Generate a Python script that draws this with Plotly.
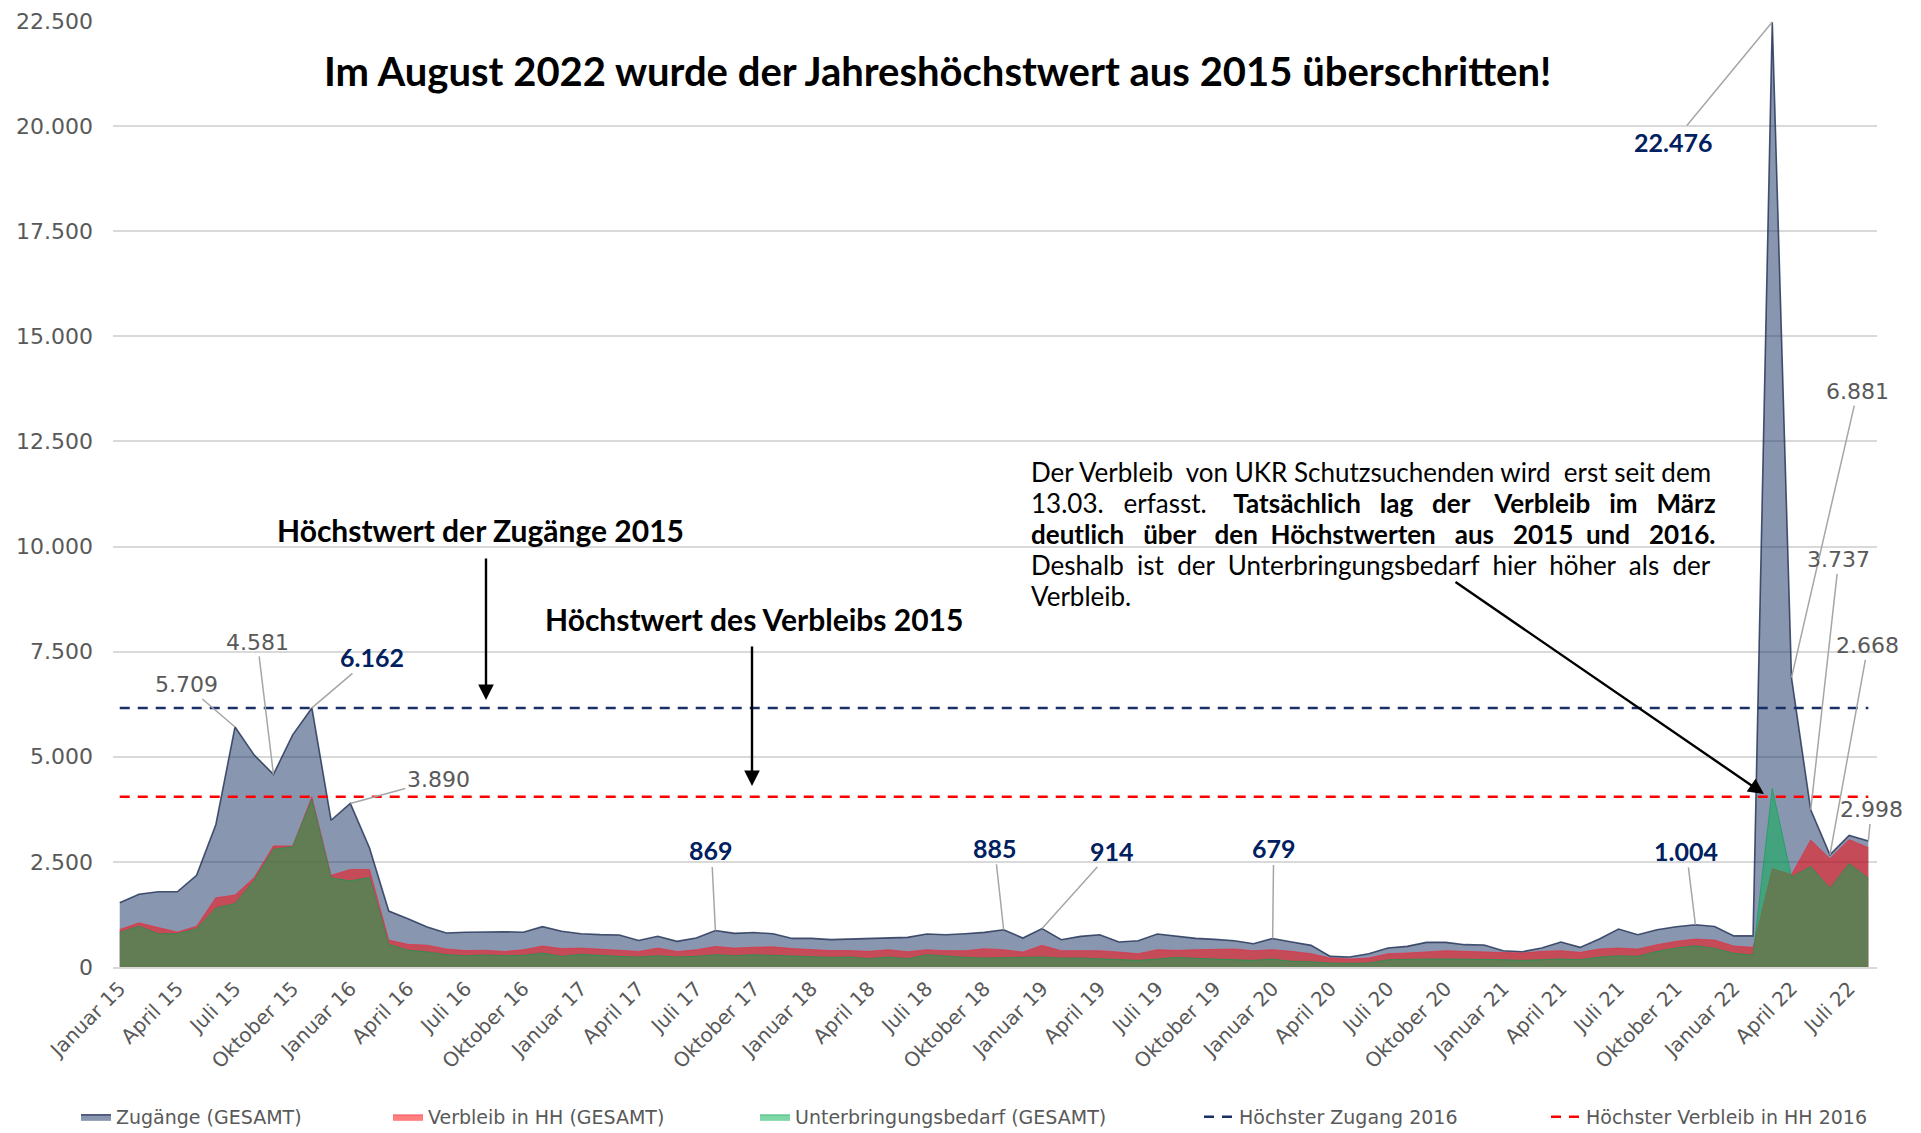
import plotly.graph_objects as go

month_names = ["Januar", "Februar", "März", "April", "Mai", "Juni", "Juli",
               "August", "September", "Oktober", "November", "Dezember"]
months = [f"{m} {y}" for y in range(15, 23) for m in month_names][:92]
tick_labels = months[::3]

zugaenge = [1530, 1730, 1790, 1790, 2180, 3380, 5709, 5040, 4581, 5520, 6162, 3490,
            3890, 2830, 1330, 1150, 950, 810, 825, 830, 840, 825, 960, 850,
            790, 770, 760, 630, 730, 610, 690, 869, 800, 820, 790, 680,
            680, 650, 665, 665, 681, 705, 784, 768, 792, 824, 885, 689,
            914, 650, 729, 768, 594, 626, 784, 729, 681, 657, 626, 554,
            679, 594, 515, 253, 238, 317, 451, 491, 586, 586, 531, 523,
            388, 364, 451, 594, 467, 665, 903, 768, 887, 958, 1004, 965,
            740, 740, 22476, 6881, 3737, 2668, 3130, 2998]

verbleib = [890, 1050, 940, 830, 970, 1650, 1710, 2130, 2880, 2880, 4050, 2180,
            2320, 2320, 640, 540, 520, 430, 390, 400, 370, 410, 500, 440,
            450, 430, 400, 370, 450, 370, 410, 490, 450, 470, 480, 440,
            410, 390, 390, 372, 412, 364, 412, 388, 388, 436, 412, 356,
            515, 388, 388, 388, 356, 317, 412, 396, 412, 428, 428, 388,
            412, 372, 317, 214, 190, 214, 317, 333, 364, 388, 372, 364,
            348, 333, 372, 388, 348, 428, 451, 428, 531, 610, 665, 641,
            499, 467, 2340, 2200, 3020, 2580, 3030, 2840]

unterbringung = [820, 970, 790, 790, 910, 1400, 1510, 2060, 2800, 2860, 3990, 2120,
                 2050, 2130, 540, 400, 360, 293, 269, 285, 269, 277, 333, 253,
                 301, 269, 253, 238, 269, 238, 253, 293, 269, 293, 277, 269,
                 253, 230, 238, 198, 238, 198, 293, 253, 230, 214, 214, 230,
                 238, 214, 214, 198, 174, 158, 190, 230, 206, 190, 174, 158,
                 190, 135, 127, 95, 87, 95, 174, 190, 190, 190, 190, 190,
                 174, 158, 174, 190, 174, 238, 269, 253, 372, 451, 507, 443,
                 325, 285, 4250, 2140, 2390, 1870, 2460, 2110]

hoechster_zugang = [6162] * len(months)
hoechster_verbleib = [4050] * len(months)

GREY = "#595959"
NAVY = "#002060"
TICKFONT = "DejaVu Sans"
BOLDFONT = "Lato"

L, R, T, B = 113, 44, 21, 166
W, H = 1921, 1133
PW, PH = W - L - R, H - T - B


def px(xp):
    return (xp - L) / PW


def py(yp):
    return (H - B - yp) / PH


fig = go.Figure()
fig.add_trace(go.Scatter(x=months, y=zugaenge, name="Zugänge (GESAMT)", mode="lines",
                         fill="tozeroy", fillcolor="rgba(20,45,95,0.5)",
                         line=dict(color="rgba(40,55,90,0.85)", width=1.6), legend="legend"))
fig.add_trace(go.Scatter(x=months, y=verbleib, name="Verbleib in HH (GESAMT)", mode="lines",
                         fill="tozeroy", fillcolor="rgba(255,0,0,0.5)",
                         line=dict(color="rgba(235,40,60,0.6)", width=1), legend="legend2"))
fig.add_trace(go.Scatter(x=months, y=unterbringung, name="Unterbringungsbedarf (GESAMT)", mode="lines",
                         fill="tozeroy", fillcolor="rgba(0,176,80,0.5)",
                         line=dict(color="rgba(0,160,80,0.6)", width=1), legend="legend3"))
fig.add_trace(go.Scatter(x=months, y=hoechster_zugang, name="Höchster Zugang 2016", mode="lines",
                         line=dict(color="#1a2f66", width=2.5, dash="10px,8px"), legend="legend4"))
fig.add_trace(go.Scatter(x=months, y=hoechster_verbleib, name="Höchster Verbleib in HH 2016", mode="lines",
                         line=dict(color="#ff0000", width=2.5, dash="10px,8px"), legend="legend5"))

annotations = []


def text_ann(x, y, text, size, xanchor="center"):
    return dict(xref="paper", yref="paper", x=px(x), y=py(y), xanchor=xanchor, yanchor="middle",
                showarrow=False, text=text, align="left",
                font=dict(family=BOLDFONT, size=size, color="black"))


annotations.append(text_ann(937, 71, "<b>Im August 2022 wurde der Jahreshöchstwert aus 2015 überschritten!</b>", 40))
annotations.append(text_ann(480, 530, "<b>Höchstwert der Zugänge 2015</b>", 30))
annotations.append(text_ann(754, 619, "<b>Höchstwert des Verbleibs 2015</b>", 30))

NB = "\u00a0"
note_lines = [
    ["Der", "Verbleib", "von", "UKR", "Schutzsuchenden", "wird", "erst", "seit", "dem"],
    ["13.03.", "erfasst.", "<b>Tatsächlich", "lag", "der", "Verbleib", "im", "März</b>"],
    ["<b>deutlich", "über", "den", "Höchstwerten", "aus", "2015", "und", "2016.</b>"],
    ["Deshalb", "ist", "der", "Unterbringungsbedarf", "hier", "höher", "als", "der"],
    ["Verbleib."],
]
# extra non-breaking spaces per word gap to imitate the justified paragraph
extra_gaps = [
    [0, 1, 0, 0, 0, 1, 0, 0],
    [2, 3, 2, 2, 3, 2, 2],
    [2, 2, 1, 2, 2, 1, 2],
    [1, 1, 1, 1, 1, 1, 1, 1],
    [],
]
for k, (words, gaps) in enumerate(zip(note_lines, extra_gaps)):
    line = words[0]
    for w, g in zip(words[1:], gaps):
        line += " " + NB * g + w
    annotations.append(text_ann(1029, 472 + 30.9 * k, line, 26, xanchor="left"))

# black arrows
for tip, tail in [((486, 700), (486, 557)), ((752, 786), (752, 645)), ((1764, 794), (1454, 581))]:
    annotations.append(dict(xref="paper", yref="paper", x=px(tip[0]), y=py(tip[1]),
                            ax=tail[0] - tip[0], ay=tail[1] - tip[1], text="",
                            showarrow=True, arrowhead=2, arrowsize=1.3, arrowwidth=2.4,
                            arrowcolor="black"))


def de(v):
    return f"{v:,}".replace(",", ".")


grey_labels = [(6, -49, -42), (8, -16, -132), (12, 88, -24), (87, 66, -286),
               (88, 28, -250), (89, 38, -209), (91, 3, -31)]
navy_labels = [(10, 60, -51), (31, -4, -80), (46, -9, -82), (48, 70, -78),
               (60, 1, -90), (82, -9, -74), (86, -99, 120)]

for i, ax, ay in grey_labels:
    annotations.append(dict(x=i, y=zugaenge[i], xref="x", yref="y", ax=ax, ay=ay,
                            text=de(zugaenge[i]), showarrow=True, arrowhead=0,
                            arrowwidth=1.5, arrowcolor="#a6a6a6",
                            font=dict(family=TICKFONT, size=22, color=GREY)))
for i, ax, ay in navy_labels:
    annotations.append(dict(x=i, y=zugaenge[i], xref="x", yref="y", ax=ax, ay=ay,
                            text=f"<b>{de(zugaenge[i])}</b>", showarrow=True, arrowhead=0,
                            arrowwidth=1.5, arrowcolor="#a6a6a6",
                            font=dict(family=BOLDFONT, size=25, color=NAVY)))

legend_common = dict(orientation="h", yanchor="middle", xanchor="left", y=py(1117),
                     bgcolor="rgba(0,0,0,0)", font=dict(family=TICKFONT, size=19, color=GREY))
legend_text_x = [116, 428, 795, 1239, 1586]
legends = {}
for k, tx in enumerate(legend_text_x):
    key = "legend" if k == 0 else f"legend{k + 1}"
    legends[key] = dict(legend_common, x=px(tx - 40))

fig.update_layout(
    width=W, height=H,
    margin=dict(l=L, r=R, t=T, b=B, autoexpand=False),
    paper_bgcolor="white", plot_bgcolor="white",
    separators=",.",
    hovermode=False,
    showlegend=True,
    annotations=annotations,
    xaxis=dict(type="category", range=[-0.35, 91.45], tickmode="array",
               tickvals=tick_labels, ticktext=tick_labels, tickangle=-45,
               showgrid=False, showline=True, linecolor="#d9d9d9", linewidth=2,
               ticks="", tickfont=dict(family=TICKFONT, size=20, color=GREY)),
    yaxis=dict(range=[0, 22500], dtick=2500, tickformat=",.0f", showgrid=True,
               gridcolor="#d9d9d9", gridwidth=1.5, zeroline=False, ticks="",
               ticklabelstandoff=19, tickfont=dict(family=TICKFONT, size=22, color=GREY)),
    **legends,
)

fig.write_html("out.html", config={"displayModeBar": False},
               post_script="document.body.style.margin='0';")
